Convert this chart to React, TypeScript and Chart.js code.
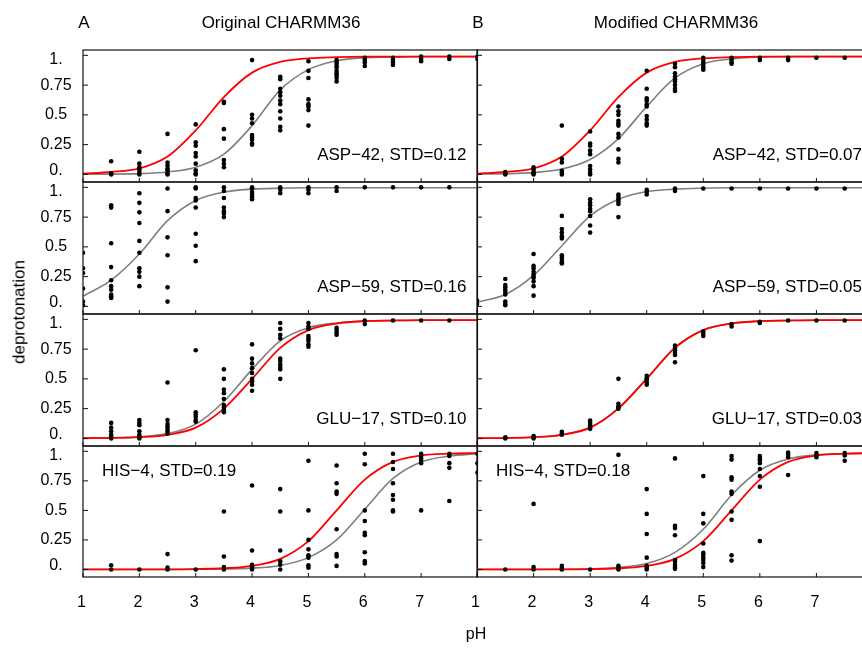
import React, { useEffect, useRef } from "react";
import { Chart, registerables } from "chart.js";

Chart.register(...registerables);

// ---------- DATA ----------
const PH_GRID = [1, 1.5, 2, 2.5, 3, 3.5, 4, 4.5, 5, 5.5, 6, 6.5, 7, 7.5, 8];
const X_TICKS = [1, 2, 3, 4, 5, 6, 7, 8];
const X_TICK_LABELS = ["1", "2", "3", "4", "5", "6", "7"];
const Y_TICKS = [0, 0.25, 0.5, 0.75, 1];
const Y_TICK_LABELS = ["0.", "0.25", "0.5", "0.75", "1."];

type Group = [number, number[]];

// simulated titration points, grouped by pH
const asp42Orig: Group[] = [
  [1.5, [0.11, 0.01, 0.0]],
  [2, [0.19, 0.09, 0.06, 0.04, 0.02, 0.0]],
  [2.5, [0.34, 0.1, 0.075, 0.05, 0.035, 0.01, 0.0]],
  [3, [0.42, 0.27, 0.24, 0.18, 0.15, 0.09, 0.035, 0.01, 0.0]],
  [3.5, [0.61, 0.6, 0.38, 0.3, 0.12, 0.09, 0.06]],
  [4, [0.96, 0.5, 0.47, 0.43, 0.33, 0.31, 0.29, 0.26, 0.25]],
  [4.5, [0.82, 0.8, 0.72, 0.69, 0.66, 0.62, 0.59, 0.53, 0.47, 0.4, 0.37]],
  [5, [0.95, 0.87, 0.81, 0.63, 0.59, 0.57, 0.54, 0.41]],
  [5.5, [0.96, 0.94, 0.92, 0.9, 0.87, 0.85, 0.83, 0.81, 0.78]],
  [6, [0.98, 0.96, 0.94, 0.91]],
  [6.5, [0.98, 0.96, 0.94, 0.92]],
  [7, [0.99, 0.97, 0.95]],
  [7.5, [0.99, 0.97]],
  [8, [0.99, 0.97]],
];
const asp42Mod: Group[] = [
  [1.5, [0.02, 0.01, 0.0]],
  [2, [0.06, 0.04, 0.02, 0.01, 0.0]],
  [2.5, [0.41, 0.13, 0.1, 0.03, 0.015, 0.0]],
  [3, [0.36, 0.26, 0.24, 0.2, 0.17, 0.07, 0.04, 0.015, 0.0]],
  [3.5, [0.57, 0.53, 0.5, 0.45, 0.43, 0.41, 0.34, 0.31, 0.21, 0.13, 0.1]],
  [4, [0.87, 0.72, 0.64, 0.62, 0.59, 0.57, 0.49, 0.46, 0.43, 0.41]],
  [4.5, [0.93, 0.9, 0.85, 0.82, 0.8, 0.78, 0.75, 0.72, 0.7]],
  [5, [0.98, 0.96, 0.94, 0.92, 0.9, 0.88]],
  [5.5, [0.98, 0.96, 0.94, 0.93]],
  [6, [0.98, 0.96]],
  [6.5, [0.98, 0.96]],
  [7, [0.98]],
  [7.5, [0.98]],
];
const asp59Orig: Group[] = [
  [1, [0.45, 0.32, 0.28, 0.15, 0.04, 0.01]],
  [1.5, [0.85, 0.83, 0.53, 0.33, 0.22, 0.17, 0.14, 0.1, 0.085, 0.07]],
  [2, [0.95, 0.87, 0.79, 0.7, 0.55, 0.45, 0.32, 0.29, 0.25, 0.17]],
  [2.5, [0.99, 0.8, 0.58, 0.43, 0.16, 0.04]],
  [3, [1.0, 0.99, 0.91, 0.89, 0.83, 0.61, 0.51, 0.38]],
  [3.5, [1.0, 0.97, 0.91, 0.83, 0.8, 0.78, 0.75]],
  [4, [1.0, 0.99, 0.96, 0.94, 0.92, 0.9]],
  [4.5, [1.0, 0.98, 0.95]],
  [5, [1.0, 0.98, 0.95]],
  [5.5, [1.0, 0.97]],
  [6, [1.0]],
  [6.5, [1.0]],
  [7, [1.0]],
  [7.5, [1.0]],
];
const asp59Mod: Group[] = [
  [1, [0.05, 0.02]],
  [1.5, [0.23, 0.18, 0.16, 0.14, 0.12, 0.1, 0.04, 0.02, 0.01]],
  [2, [0.44, 0.34, 0.32, 0.29, 0.27, 0.25, 0.24, 0.21, 0.17, 0.09]],
  [2.5, [0.76, 0.65, 0.62, 0.59, 0.57, 0.43, 0.41, 0.39, 0.37, 0.36]],
  [3, [0.9, 0.87, 0.85, 0.82, 0.8, 0.76, 0.68, 0.62]],
  [3.5, [0.94, 0.92, 0.9, 0.88, 0.86, 0.75]],
  [4, [0.98, 0.96, 0.94]],
  [4.5, [0.99, 0.97]],
  [5, [0.99]],
  [5.5, [0.99]],
  [6, [0.99]],
  [6.5, [0.99]],
  [7, [0.99]],
  [7.5, [0.99]],
];
const glu17Orig: Group[] = [
  [1.5, [0.13, 0.09, 0.06, 0.03, 0.015, 0.0]],
  [2, [0.155, 0.13, 0.11, 0.06, 0.03, 0.015, 0.0]],
  [2.5, [0.47, 0.155, 0.12, 0.1, 0.08, 0.06, 0.04]],
  [3, [0.74, 0.22, 0.2, 0.18, 0.155, 0.14]],
  [3.5, [0.58, 0.5, 0.41, 0.38, 0.33, 0.28, 0.26, 0.24, 0.22]],
  [4, [0.79, 0.67, 0.63, 0.59, 0.55, 0.5, 0.48, 0.45, 0.4]],
  [4.5, [0.97, 0.92, 0.87, 0.84, 0.67, 0.65, 0.62, 0.6, 0.58, 0.5]],
  [5, [0.97, 0.94, 0.92, 0.86, 0.84, 0.82, 0.79, 0.77]],
  [5.5, [0.93, 0.91, 0.89, 0.87]],
  [6, [0.99, 0.96]],
  [6.5, [0.99]],
  [7, [0.99]],
  [7.5, [0.99]],
];
const glu17Mod: Group[] = [
  [1.5, [0.01, 0.0]],
  [2, [0.02, 0.01, 0.0]],
  [2.5, [0.055, 0.04, 0.03]],
  [3, [0.15, 0.13, 0.11, 0.09, 0.08]],
  [3.5, [0.5, 0.29, 0.27, 0.26, 0.25]],
  [4, [0.525, 0.505, 0.49, 0.47, 0.45]],
  [4.5, [0.78, 0.76, 0.74, 0.72, 0.7, 0.64]],
  [5, [0.9, 0.88, 0.86]],
  [5.5, [0.96, 0.94]],
  [6, [0.98, 0.97]],
  [6.5, [0.99]],
  [7, [0.99]],
  [7.5, [0.99]],
];
const his4Orig: Group[] = [
  [1.5, [0.036, 0.0]],
  [2, [0.0]],
  [2.5, [0.13, 0.015, 0.0]],
  [3, [0.0]],
  [3.5, [0.49, 0.11, 0.02, 0.0]],
  [4, [0.71, 0.16, 0.04, 0.03, 0.015, 0.0]],
  [4.5, [0.68, 0.49, 0.16, 0.07, 0.04, 0.0]],
  [5, [0.92, 0.5, 0.25, 0.17, 0.12, 0.1, 0.035, 0.015]],
  [5.5, [0.88, 0.73, 0.66, 0.64, 0.34, 0.13, 0.11, 0.03]],
  [6, [0.98, 0.89, 0.5, 0.41, 0.31, 0.29, 0.145, 0.07, 0.05]],
  [6.5, [0.98, 0.91, 0.85, 0.73, 0.63, 0.59, 0.5, 0.49]],
  [7, [0.98, 0.96, 0.94, 0.92, 0.9, 0.5]],
  [7.5, [0.98, 0.96, 0.9, 0.86, 0.58]],
  [8, [0.98, 0.9, 0.82]],
];
const his4Mod: Group[] = [
  [1.5, [0.0]],
  [2, [0.555, 0.02, 0.0]],
  [2.5, [0.03, 0.015, 0.0]],
  [3, [0.0]],
  [3.5, [0.97, 0.03, 0.015, 0.0]],
  [4, [0.68, 0.47, 0.3, 0.1, 0.03, 0.015, 0.0]],
  [4.5, [0.94, 0.37, 0.35, 0.29, 0.08, 0.065, 0.04, 0.02, 0.005]],
  [5, [0.79, 0.47, 0.39, 0.22, 0.14, 0.125, 0.1, 0.08, 0.055, 0.02]],
  [5.5, [0.96, 0.93, 0.78, 0.76, 0.66, 0.64, 0.49, 0.42, 0.12, 0.075]],
  [6, [0.96, 0.94, 0.925, 0.9, 0.85, 0.79, 0.7, 0.24]],
  [6.5, [0.99, 0.97, 0.95, 0.8]],
  [7, [0.985, 0.965, 0.95]],
  [7.5, [0.985, 0.965, 0.92]],
];

// fitted curves, sampled on PH_GRID (gray = simulation fit, red = experiment)
const asp42ExpFit = [0.006, 0.02, 0.05, 0.15, 0.37, 0.65, 0.855, 0.945, 0.975, 0.985, 0.99, 0.99, 0.99, 0.99, 0.99];
const asp42OrigFit = [0.001, 0.002, 0.006, 0.02, 0.06, 0.17, 0.41, 0.71, 0.88, 0.955, 0.98, 0.985, 0.99, 0.99, 0.99];
const asp42ModFit = [0.002, 0.005, 0.015, 0.045, 0.125, 0.3, 0.57, 0.81, 0.93, 0.97, 0.985, 0.99, 0.99, 0.99, 0.99];
const asp59OrigFit = [0.085, 0.22, 0.44, 0.72, 0.89, 0.96, 0.985, 0.993, 0.997, 0.997, 0.997, 0.997, 0.997, 0.997, 0.997];
const asp59ModFit = [0.035, 0.1, 0.26, 0.51, 0.76, 0.9, 0.965, 0.985, 0.993, 0.997, 0.997, 0.997, 0.997, 0.997, 0.997];
const glu17ExpFit = [0.001, 0.003, 0.01, 0.03, 0.09, 0.25, 0.5, 0.76, 0.91, 0.965, 0.985, 0.99, 0.993, 0.993, 0.993];
const glu17OrigFit = [0.001, 0.004, 0.013, 0.04, 0.12, 0.31, 0.58, 0.82, 0.93, 0.97, 0.985, 0.99, 0.993, 0.993, 0.993];
const glu17ModFit = [0.001, 0.003, 0.01, 0.031, 0.092, 0.255, 0.505, 0.765, 0.91, 0.965, 0.985, 0.99, 0.993, 0.993, 0.993];
const his4ExpFit = [0, 0, 0, 0.001, 0.003, 0.01, 0.03, 0.09, 0.24, 0.5, 0.76, 0.91, 0.965, 0.98, 0.985];
const his4OrigFit = [0, 0, 0, 0, 0.001, 0.004, 0.011, 0.034, 0.1, 0.25, 0.51, 0.77, 0.91, 0.96, 0.98];
const his4ModFit = [0, 0, 0, 0.001, 0.005, 0.017, 0.05, 0.145, 0.34, 0.63, 0.84, 0.935, 0.97, 0.98, 0.985];

const COLUMN_TITLES = ["Original CHARMM36", "Modified CHARMM36"];
const COLUMN_LETTERS = ["A", "B"];

type PanelSpec = {
  col: number;
  row: number;
  points: Group[];
  gray: number[];
  red: number[] | null;
  label: string;
};

const PANELS: PanelSpec[] = [
  { col: 0, row: 0, points: asp42Orig, gray: asp42OrigFit, red: asp42ExpFit, label: "ASP\u221242, STD=0.12" },
  { col: 1, row: 0, points: asp42Mod, gray: asp42ModFit, red: asp42ExpFit, label: "ASP\u221242, STD=0.07" },
  { col: 0, row: 1, points: asp59Orig, gray: asp59OrigFit, red: null, label: "ASP\u221259, STD=0.16" },
  { col: 1, row: 1, points: asp59Mod, gray: asp59ModFit, red: null, label: "ASP\u221259, STD=0.05" },
  { col: 0, row: 2, points: glu17Orig, gray: glu17OrigFit, red: glu17ExpFit, label: "GLU\u221217, STD=0.10" },
  { col: 1, row: 2, points: glu17Mod, gray: glu17ModFit, red: glu17ExpFit, label: "GLU\u221217, STD=0.03" },
  { col: 0, row: 3, points: his4Orig, gray: his4OrigFit, red: his4ExpFit, label: "HIS\u22124, STD=0.19" },
  { col: 1, row: 3, points: his4Mod, gray: his4ModFit, red: his4ExpFit, label: "HIS\u22124, STD=0.18" },
];

// ---------- LAYOUT ----------
const CANVAS_W = 900;
const CANVAS_H = 651;
const COL_X: [number, number][] = [
  [83, 477.5],
  [477, 873],
];
const ROW_Y: [number, number][] = [
  [50, 182],
  [182, 314],
  [314, 446],
  [446, 577],
];
const X_MIN = 1;
const X_MAX = 8;
const Y_MIN = -0.064;
const Y_MAX = 1.045;
const FONT = '"Liberation Sans", Arial, Helvetica, sans-serif';

function makeFramePlugin(spec: PanelSpec) {
  return {
    id: "frame" + spec.col + spec.row,
    afterDatasetsDraw(chart: any) {
      const { ctx, chartArea: a, scales } = chart;
      const xs = scales.x;
      const ys = scales.y;
      ctx.save();
      ctx.strokeStyle = "#111";
      ctx.lineWidth = 1.2;
      ctx.strokeRect(a.left, a.top, a.right - a.left, a.bottom - a.top);
      ctx.lineWidth = 1;
      ctx.beginPath();
      for (const v of X_TICKS) {
        const px = xs.getPixelForValue(v);
        ctx.moveTo(px, a.bottom);
        ctx.lineTo(px, a.bottom - 4);
      }
      for (const v of Y_TICKS) {
        const py = ys.getPixelForValue(v);
        ctx.moveTo(a.left, py);
        ctx.lineTo(a.left + 5, py);
      }
      ctx.stroke();

      ctx.fillStyle = "#000";
      // y tick labels (left column)
      if (spec.col === 0) {
        ctx.font = "16px " + FONT;
        ctx.textAlign = "center";
        ctx.textBaseline = "middle";
        Y_TICKS.forEach((v, i) => {
          let py = ys.getPixelForValue(v);
          py = Math.max(a.top + 10, Math.min(a.bottom - 11, py));
          ctx.fillText(Y_TICK_LABELS[i], 56, py);
        });
      }
      // x tick labels (bottom row)
      if (spec.row === 3) {
        ctx.font = "16px " + FONT;
        ctx.textAlign = "center";
        ctx.textBaseline = "middle";
        X_TICK_LABELS.forEach((lab, i) => {
          const px = xs.getPixelForValue(X_TICKS[i]);
          ctx.fillText(lab, px - 1.5, 603);
        });
      }
      // panel label
      ctx.font = "17px " + FONT;
      ctx.textBaseline = "middle";
      if (spec.row === 3) {
        ctx.textAlign = "left";
        ctx.fillText(spec.label, a.left + 19, a.top + 25);
      } else {
        ctx.textAlign = "right";
        ctx.fillText(spec.label, a.right - 11, a.top + 105);
      }
      ctx.restore();
    },
  };
}

function Panel({ spec }: { spec: PanelSpec }) {
  const ref = useRef<HTMLCanvasElement>(null);
  useEffect(() => {
    if (!ref.current) return;
    const [l, r] = COL_X[spec.col];
    const [t, b] = ROW_Y[spec.row];
    const curve = (vals: number[]) => PH_GRID.map((x, i) => ({ x, y: vals[i] }));
    const pts = spec.points.flatMap(([ph, vals]) => vals.map((v) => ({ x: ph, y: v })));
    const datasets: any[] = [
      {
        data: pts,
        showLine: false,
        pointRadius: 2.3,
        pointBackgroundColor: "#000",
        pointBorderWidth: 0,
        order: 0,
        clip: 0,
      },
      {
        data: curve(spec.gray),
        borderColor: "#7f7f7f",
        borderWidth: 1.6,
        pointRadius: 0,
        cubicInterpolationMode: "monotone",
        fill: false,
        order: 2,
        clip: 0,
      },
    ];
    if (spec.red) {
      datasets.push({
        data: curve(spec.red),
        borderColor: "#ff0000",
        borderWidth: 1.8,
        pointRadius: 0,
        cubicInterpolationMode: "monotone",
        fill: false,
        order: 1,
        clip: 0,
      });
    }
    const chart = new Chart(ref.current, {
      type: "line",
      data: { datasets },
      options: {
        responsive: false,
        animation: false,
        events: [],
        layout: {
          padding: { left: l, right: CANVAS_W - r, top: t, bottom: CANVAS_H - b },
        },
        scales: {
          x: { type: "linear", min: X_MIN, max: X_MAX, display: false },
          y: { type: "linear", min: Y_MIN, max: Y_MAX, display: false },
        },
        plugins: {
          legend: { display: false },
          tooltip: { enabled: false },
          title: { display: false },
        },
      },
      plugins: [makeFramePlugin(spec)],
    } as any);
    return () => chart.destroy();
  }, [spec]);
  return (
    <canvas
      ref={ref}
      width={CANVAS_W}
      height={CANVAS_H}
      style={{ position: "absolute", left: 0, top: 0, width: CANVAS_W, height: CANVAS_H }}
    />
  );
}

function Label({ x, y, text, size = 16, rotate = false }: { x: number; y: number; text: string; size?: number; rotate?: boolean }) {
  return (
    <div
      style={{
        position: "absolute",
        left: x,
        top: y,
        transform: "translate(-50%, -50%)" + (rotate ? " rotate(-90deg)" : ""),
        fontFamily: FONT,
        fontSize: size,
        lineHeight: 1,
        whiteSpace: "nowrap",
        color: "#000",
      }}
    >
      {text}
    </div>
  );
}

export default function App() {
  return (
    <div
      style={{
        position: "fixed",
        left: 0,
        top: 0,
        width: 862,
        height: 651,
        overflow: "hidden",
        background: "#fff",
      }}
    >
      {PANELS.map((p) => (
        <Panel key={p.col + "-" + p.row} spec={p} />
      ))}
      <Label x={84} y={22} text={COLUMN_LETTERS[0]} size={17} />
      <Label x={281} y={22} text={COLUMN_TITLES[0]} size={17} />
      <Label x={478} y={22} text={COLUMN_LETTERS[1]} size={17} />
      <Label x={676} y={22} text={COLUMN_TITLES[1]} size={17} />
      <Label x={19} y={312} text="deprotonation" size={17} rotate />
      <Label x={476} y={634} text="pH" size={16} />
    </div>
  );
}
